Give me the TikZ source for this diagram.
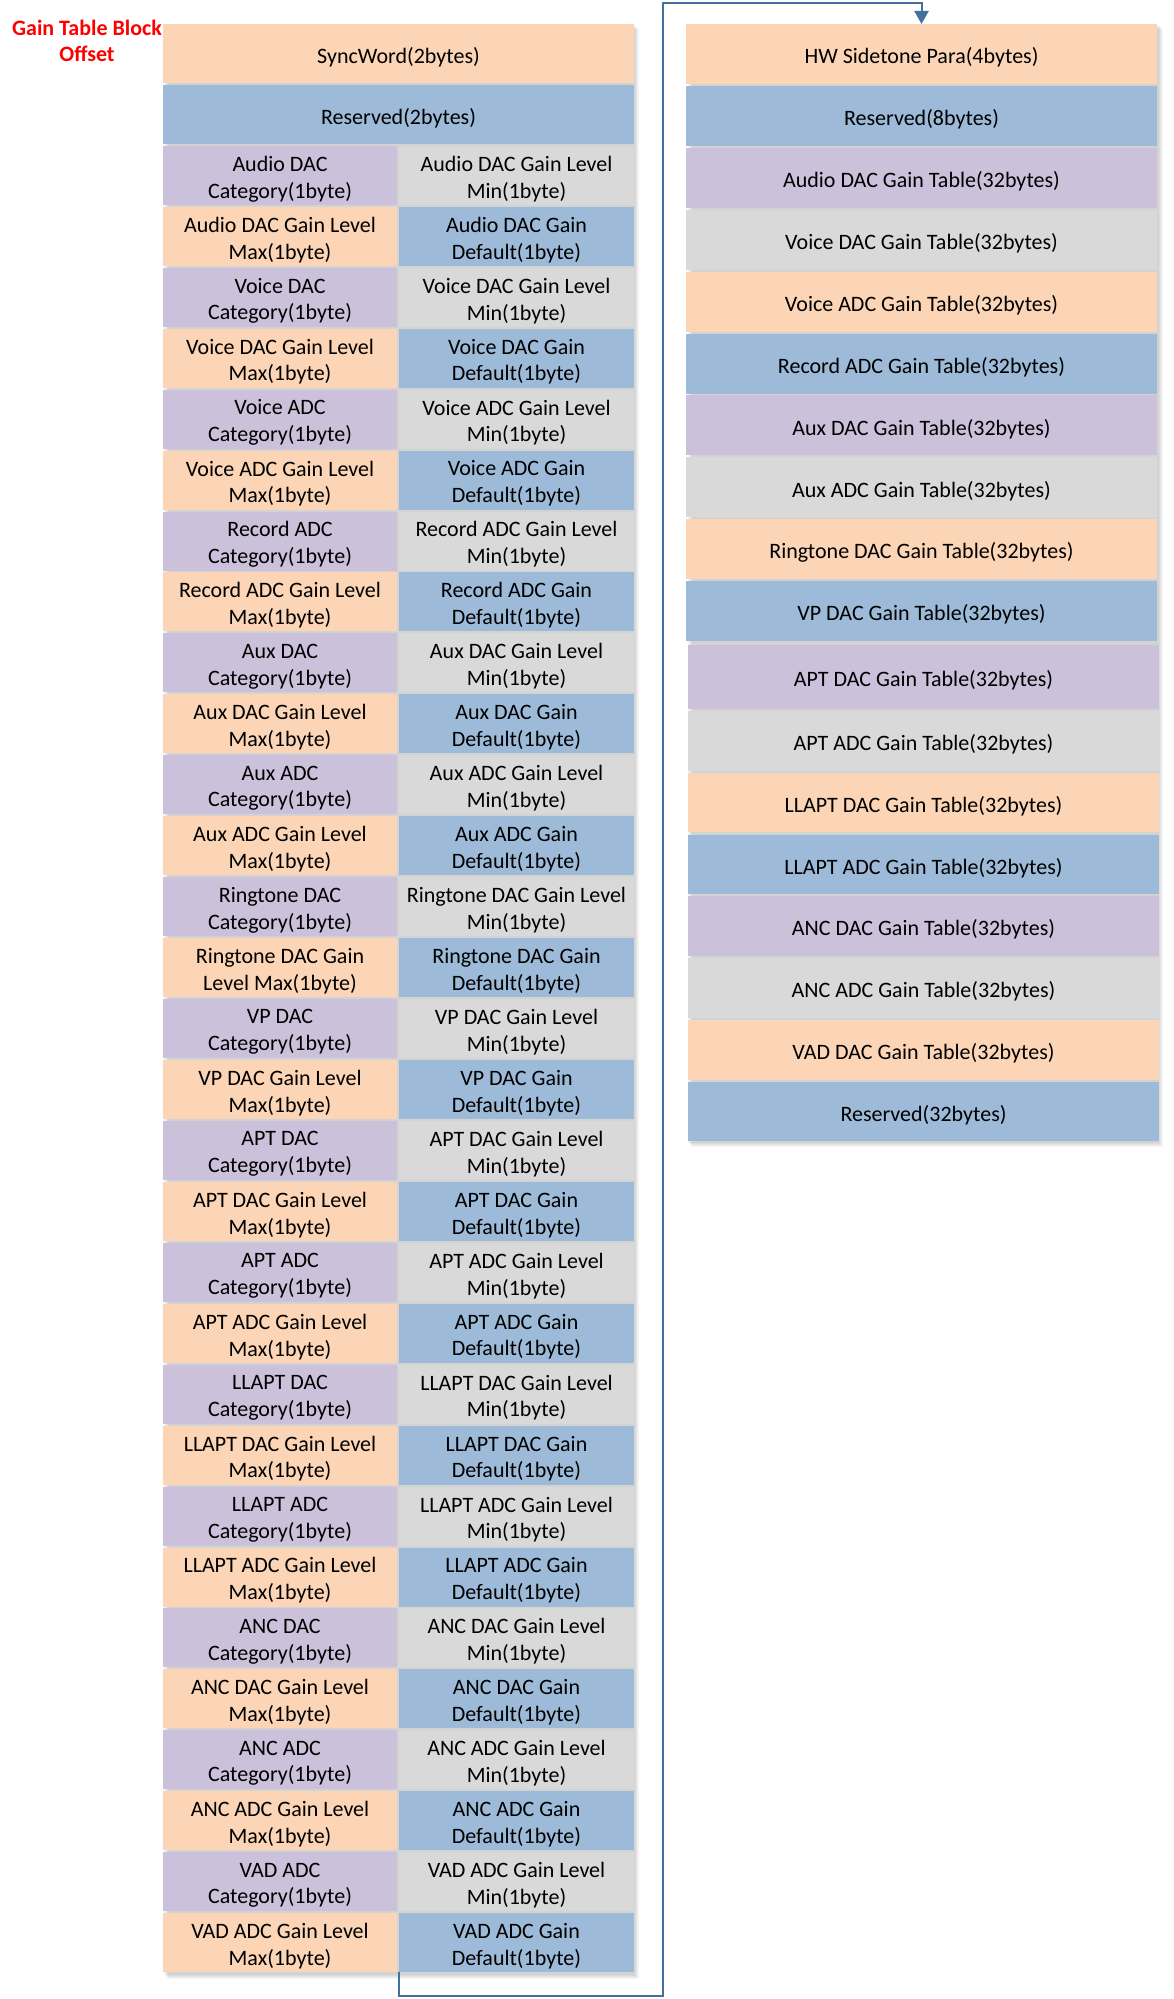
\documentclass[tikz,border=0pt]{standalone}
\usepackage{fontspec}
\setmainfont{Carlito}
\usetikzlibrary{arrows.meta}
\definecolor{cpeach}{HTML}{FBD5B5}
\definecolor{cblue}{HTML}{9DBBD8}
\definecolor{cpurple}{HTML}{CCC1DA}
\definecolor{cgray}{HTML}{D9D9D9}
\definecolor{cline}{HTML}{41719C}
\newcommand{\fullrow}[4]{%
  \pgfmathsetmacro\myyy{24+(#1)*60.94+29.5}%
  \node[cellbox, fill=#3, minimum width=471pt, minimum height=59pt] (#2) at (398.5,\myyy) {};
  \node[celltext] (#2t) at ([yshift=-3.5pt]#2.center) {#4};}
\newcommand{\pairrow}[6]{%
  \pgfmathsetmacro\myyy{24+(#1)*60.94+29.5}%
  \node[cellbox, fill=#3, minimum width=234pt, minimum height=59pt] (#2a) at (280,\myyy) {};
  \node[celltext] (#2at) at ([yshift=-3.5pt]#2a.center) {#4};
  \node[cellbox, fill=#5, minimum width=235pt, minimum height=59pt] (#2b) at (516.5,\myyy) {};
  \node[celltext] (#2bt) at ([yshift=-3.5pt]#2b.center) {#6};}
\newcommand{\gaingroup}[4]{%
  \pairrow{#1}{#2cat}{cpurple}{#3\\Category(1byte)}{cgray}{#3 Gain Level\\Min(1byte)}
  \pairrow{#1+1}{#2max}{cpeach}{#4}{cblue}{#3 Gain\\Default(1byte)}}
\newcommand{\rrow}[6]{%
  \pgfmathsetmacro\myyy{#1+(#2)/2}%
  \pgfmathsetmacro\myxx{#3+235.5}%
  \node[cellbox, fill=#5, minimum width=471pt, minimum height=#2pt] (#4) at (\myxx,\myyy) {};
  \node[celltext] (#4t) at ([yshift=-3.5pt]#4.center) {#6};}
\begin{document}
\begin{tikzpicture}[x=1pt,y=-1pt,
  cellbox/.style={draw=none, inner sep=0pt, outer sep=0pt},
  celltext/.style={inner sep=0pt, align=center,
    font=\fontsize{22}{26.8}\selectfont, text=black},
  conn/.style={draw=cline, line width=2pt, -{Triangle[width=14pt,length=13pt]}},
  titletext/.style={text=red, inner sep=0pt, font=\bfseries\fontsize{22}{25.5}\selectfont, align=center},
  shade/.style={fill=black, opacity=0.035}]
\useasboundingbox[fill=white] (0,0) rectangle (1173,1999);
% shadows
\foreach \d in {1,...,5}{
  \fill[shade] (163+\d,24+\d) rectangle (634+\d,1974+\d);
  \fill[shade] (687+\d,24+\d) rectangle (1158+\d,1142+\d);
}
% title
\node[titletext] (ttl) at (87,41) {Gain Table Block\\Offset};
% left column
\fullrow{0}{sync}{cpeach}{SyncWord(2bytes)}
\fullrow{1}{resA}{cblue}{Reserved(2bytes)}
\gaingroup{2}{AudioDAC}{Audio DAC}{Audio DAC Gain Level\\Max(1byte)}
\gaingroup{4}{VoiceDAC}{Voice DAC}{Voice DAC Gain Level\\Max(1byte)}
\gaingroup{6}{VoiceADC}{Voice ADC}{Voice ADC Gain Level\\Max(1byte)}
\gaingroup{8}{RecordADC}{Record ADC}{Record ADC Gain Level\\Max(1byte)}
\gaingroup{10}{AuxDAC}{Aux DAC}{Aux DAC Gain Level\\Max(1byte)}
\gaingroup{12}{AuxADC}{Aux ADC}{Aux ADC Gain Level\\Max(1byte)}
\gaingroup{14}{RingDAC}{Ringtone DAC}{Ringtone DAC Gain\\Level Max(1byte)}
\gaingroup{16}{VPDAC}{VP DAC}{VP DAC Gain Level\\Max(1byte)}
\gaingroup{18}{APTDAC}{APT DAC}{APT DAC Gain Level\\Max(1byte)}
\gaingroup{20}{APTADC}{APT ADC}{APT ADC Gain Level\\Max(1byte)}
\gaingroup{22}{LLAPTDAC}{LLAPT DAC}{LLAPT DAC Gain Level\\Max(1byte)}
\gaingroup{24}{LLAPTADC}{LLAPT ADC}{LLAPT ADC Gain Level\\Max(1byte)}
\gaingroup{26}{ANCDAC}{ANC DAC}{ANC DAC Gain Level\\Max(1byte)}
\gaingroup{28}{ANCADC}{ANC ADC}{ANC ADC Gain Level\\Max(1byte)}
\gaingroup{30}{VADADC}{VAD ADC}{VAD ADC Gain Level\\Max(1byte)}
% right column
\rrow{24+0*61.9}{60}{686}{hw}{cpeach}{HW Sidetone Para(4bytes)}
\rrow{24+1*61.9}{60}{686}{resB}{cblue}{Reserved(8bytes)}
\rrow{24+2*61.9}{60}{686}{tAudioDAC}{cpurple}{Audio DAC Gain Table(32bytes)}
\rrow{24+3*61.9}{60}{686}{tVoiceDAC}{cgray}{Voice DAC Gain Table(32bytes)}
\rrow{24+4*61.9}{60}{686}{tVoiceADC}{cpeach}{Voice ADC Gain Table(32bytes)}
\rrow{24+5*61.9}{60}{686}{tRecordADC}{cblue}{Record ADC Gain Table(32bytes)}
\rrow{24+6*61.9}{60}{686}{tAuxDAC}{cpurple}{Aux DAC Gain Table(32bytes)}
\rrow{24+7*61.9}{60}{686}{tAuxADC}{cgray}{Aux ADC Gain Table(32bytes)}
\rrow{24+8*61.9}{60}{686}{tRingDAC}{cpeach}{Ringtone DAC Gain Table(32bytes)}
\rrow{24+9*61.9}{60}{686}{tVPDAC}{cblue}{VP DAC Gain Table(32bytes)}
\rrow{645}{64}{688}{tAPTDAC}{cpurple}{APT DAC Gain Table(32bytes)}
\rrow{711+0*61.8}{59.5}{688}{tAPTADC}{cgray}{APT ADC Gain Table(32bytes)}
\rrow{711+1*61.8}{59.5}{688}{tLLAPTDAC}{cpeach}{LLAPT DAC Gain Table(32bytes)}
\rrow{711+2*61.8}{59.5}{688}{tLLAPTADC}{cblue}{LLAPT ADC Gain Table(32bytes)}
\rrow{711+3*61.8}{59.5}{688}{tANCDAC}{cpurple}{ANC DAC Gain Table(32bytes)}
\rrow{711+4*61.8}{59.5}{688}{tANCADC}{cgray}{ANC ADC Gain Table(32bytes)}
\rrow{711+5*61.8}{59.5}{688}{tVADDAC}{cpeach}{VAD DAC Gain Table(32bytes)}
\rrow{711+6*61.8}{59.5}{688}{resC}{cblue}{Reserved(32bytes)}
% connector
\coordinate (bendlow) at (663,1996);
\coordinate (bendtop) at (663,3);
\draw[conn] (VADADCmaxb.south west) |- (bendlow) -- (bendtop) -| (hw.north);
\end{tikzpicture}
\end{document}
